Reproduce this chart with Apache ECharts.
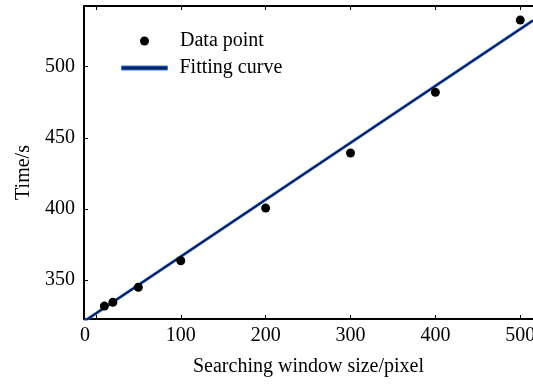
<!DOCTYPE html>
<html>
<head>
<meta charset="utf-8">
<script src="https://cdn.jsdelivr.net/npm/echarts@6/dist/echarts.min.js"></script>
<style>
  html, body { margin: 0; padding: 0; background: #fff; }
  #chart { width: 533px; height: 385px; }
</style>
</head>
<body>
<div id="chart"></div>
<script>
  // measured points
  var windowSize = [10, 20, 50, 100, 200, 300, 400, 500]
  var timeSec = [331.7, 334.3, 344.9, 363.6, 400.6, 439.3, 482, 532.8]

  // fitted line, read at the two ends of the plot
  var fitX = [-14, 515]
  var fitY = [320.9, 532.5]

  var xTicks = [0, 100, 200, 300, 400, 500]
  var yTicks = [350, 400, 450, 500]

  var font = 'Liberation Serif'
  var fs = 20

  var chart = echarts.init(document.getElementById('chart'))

  var pointData = windowSize.map(function (x, i) { return [x, timeSec[i]] })
  var fitData = fitX.map(function (x, i) { return [x, fitY[i]] })

  var option = {
    animation: false,
    grid: { left: 84, top: 6, right: 0, bottom: 66, outerBoundsMode: 'none' },
    legend: [{
      data: ['Data point'],
      left: 135,
      top: 26,
      itemWidth: 9,
      itemHeight: 9,
      icon: 'circle',
      textStyle: { fontFamily: font, fontSize: fs, color: '#000', padding: [0, 0, 0, 26] }
    }, {
      data: ['Fitting curve'],
      left: 116,
      top: 53,
      itemWidth: 46,
      itemHeight: 4,
      icon: 'rect',
      itemStyle: { color: '#0b1f60', borderColor: '#2a7ae0', borderWidth: 1 },
      textStyle: { fontFamily: font, fontSize: fs, color: '#000', padding: [0, 0, 0, 7] }
    }],
    xAxis: [{
      type: 'value',
      min: -14,
      max: 515,
      name: 'Searching window size/pixel',
      nameLocation: 'middle',
      nameGap: 38,
      nameTextStyle: { fontFamily: font, fontSize: fs, color: '#000' },
      axisLine: { onZero: false, lineStyle: { color: '#000', width: 2 } },
      axisTick: { inside: true, length: 4, customValues: xTicks, lineStyle: { color: '#000' } },
      axisLabel: {
        customValues: xTicks,
        margin: 7,
        fontFamily: font,
        fontSize: fs,
        color: '#000',
        formatter: function (v) { return v === 0 ? '{z|0}' : String(v) },
        rich: { z: { fontFamily: font, fontSize: fs, color: '#000', padding: [0, 22, 0, 0] } }
      },
      splitLine: { show: false }
    }, {
      type: 'value',
      position: 'top',
      min: -14,
      max: 515,
      axisLine: { onZero: false, lineStyle: { color: '#000', width: 2 } },
      axisTick: { inside: true, length: 4, customValues: xTicks, lineStyle: { color: '#000' } },
      axisLabel: { show: false },
      splitLine: { show: false }
    }],
    yAxis: {
      type: 'value',
      min: 322.6,
      max: 542.7,
      name: 'Time/s',
      nameLocation: 'middle',
      nameGap: 50,
      nameTextStyle: { fontFamily: font, fontSize: fs, color: '#000', padding: [0, 20, 0, 0] },
      axisLine: { onZero: false, lineStyle: { color: '#000', width: 2 } },
      axisTick: { inside: true, length: 4, customValues: yTicks, lineStyle: { color: '#000' } },
      axisLabel: { customValues: yTicks, margin: 9, fontFamily: font, fontSize: fs, color: '#000' },
      splitLine: { show: false }
    },
    series: [{
      name: 'Fitting curve',
      type: 'line',
      data: fitData,
      symbol: 'none',
      lineStyle: { color: '#1a5cd6', width: 3 },
      itemStyle: { color: '#1a5cd6' },
      z: 2
    }, {
      name: 'core',
      type: 'line',
      data: fitData,
      symbol: 'none',
      lineStyle: { color: '#0a0f2a', width: 1.3 },
      z: 3
    }, {
      name: 'Data point',
      type: 'scatter',
      data: pointData,
      symbolSize: 9,
      itemStyle: { color: '#000', opacity: 1 },
      z: 4
    }]
  }
  chart.setOption(option)
</script>
</body>
</html>
